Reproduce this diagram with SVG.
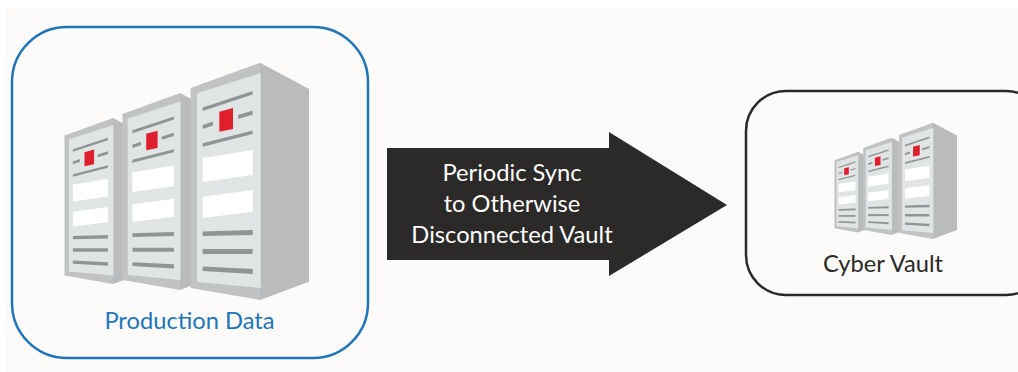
<svg xmlns="http://www.w3.org/2000/svg" width="1018" height="372" viewBox="0 0 1018 372">
<style>
.side{fill:#b9bbbd}.frame{fill:#c0c2c4}.front{fill:#e0e4e5}.bar{fill:#909495}.white{fill:#fff}.led{fill:#e01f2d}
text{font-family:"Lato","Open Sans",sans-serif;text-anchor:middle;font-size:23.7px}
.box{fill:none}
</style>
<defs>
<g id="rack">
<path class="side" d="M260 62.7L309 89V281.7L260 300Z"/>
<path class="frame" d="M190.7 88L260 62.7V300L190.7 288Z"/>
<path class="front" d="M197 93.3L260.7 73V288L197 282Z"/>
<path class="bar" d="M202.7 107.5L252.7 90.9V94.5L202.7 111.1Z"/>
<path class="bar" d="M202.7 125L213 121.5V125.5L202.7 129Z"/>
<path class="bar" d="M238 115L252.7 110.5V114.5L238 119Z"/>
<path class="led" d="M219.3 111.7L233 108V129L219.3 131.7Z"/>
<path class="bar" d="M202.7 143.2L252.7 130.5V134.1L202.7 146.8Z"/>
<path class="white" d="M202.7 158L252.7 150V175L202.7 182Z"/>
<path class="white" d="M202.7 196.7L252.7 190V211.7L202.7 218Z"/>
<path class="bar" d="M202.7 231.5L252.7 230V235L202.7 236Z"/>
<path class="bar" d="M202.7 249L252.7 249V254L202.7 254Z"/>
<path class="bar" d="M202.7 266.5L252.7 269V274L202.7 271Z"/>
</g>
</defs>
<rect width="1018" height="372" fill="#fff"/>
<rect x="6" y="7" width="1012" height="365" fill="#fcfbf9"/>
<g id="production-data">
<rect class="box" x="12" y="27" width="356" height="331" rx="55" stroke="#1f75b8" stroke-width="2.5"/>
<use href="#rack" transform="translate(-69 74) scale(.7)"/>
<use href="#rack" transform="translate(-35.8 41) scale(.83)"/>
<use href="#rack"/>
<text x="189.5" y="329" fill="#1f75b8">Production Data</text>
</g>
<g id="cyber-vault">
<rect class="box" x="746" y="91" width="300" height="204" rx="40" stroke="#2b2a29" stroke-width="2.5"/>
<use href="#rack" transform="translate(769.6 130.4) scale(.34)"/>
<use href="#rack" transform="translate(785 112) scale(.41)"/>
<use href="#rack" transform="translate(805.6 92) scale(.49)"/>
<text x="883" y="272" fill="#2b2a29">Cyber Vault</text>
</g>
<g id="connectors">
<path id="sync-arrow" d="M387 148H609V132L727 205L609 276V260H387Z" fill="#2b2a29"/>
<g fill="#fff">
<text x="512" y="181">Periodic Sync</text>
<text x="512" y="212">to Otherwise</text>
<text x="512" y="243">Disconnected Vault</text>
</g>
</g>
</svg>
